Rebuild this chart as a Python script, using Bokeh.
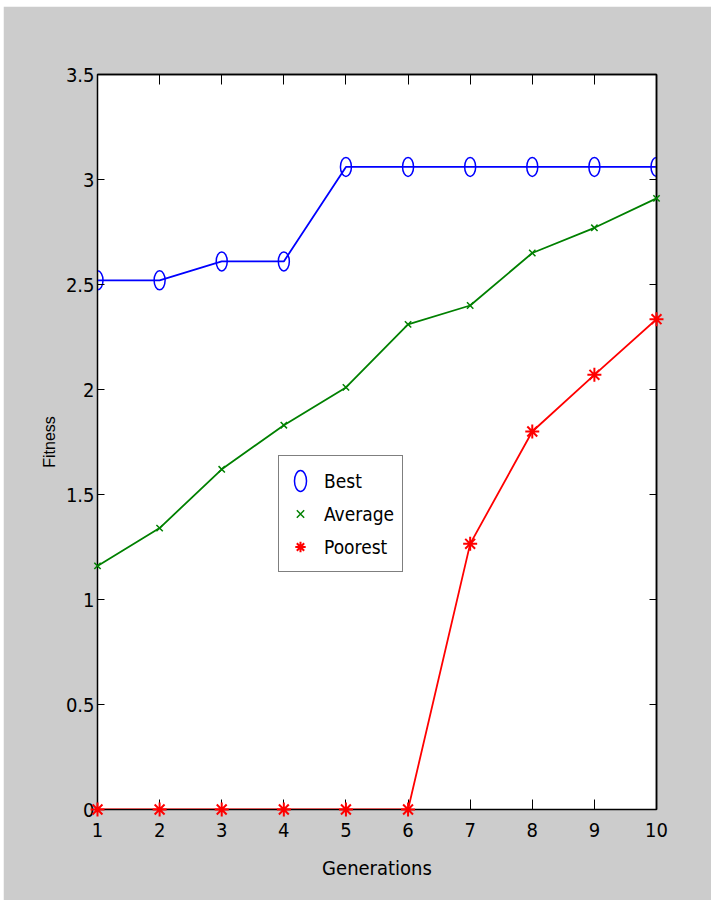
from bokeh.plotting import figure
from bokeh.models import LinearAxis, FixedTicker, Legend, LegendItem, Spacer
from bokeh.layouts import column, row
from bokeh.embed import file_html
from bokeh.resources import INLINE

generations = [1, 2, 3, 4, 5, 6, 7, 8, 9, 10]
best = [2.52, 2.52, 2.61, 2.61, 3.06, 3.06, 3.06, 3.06, 3.06, 3.06]
average = [1.16, 1.34, 1.62, 1.83, 2.01, 2.31, 2.40, 2.65, 2.77, 2.91]
poorest = [0.0, 0.0, 0.0, 0.0, 0.0, 0.0, 1.265, 1.80, 2.07, 2.335]
x_ticks = [1, 2, 3, 4, 5, 6, 7, 8, 9, 10]
y_ticks = [0, 0.5, 1, 1.5, 2, 2.5, 3, 3.5]

COND = "DejaVu Sans Condensed"
BG = "#cccccc"

p = figure(width=708, height=894, x_range=(1, 10), y_range=(0, 3.5),
           output_backend="svg", toolbar_location=None,
           min_border_left=94, min_border_top=68, min_border_right=55, min_border_bottom=91)
p.background_fill_color = "white"
p.border_fill_color = BG
p.outline_line_color = "black"
p.outline_line_width = 1.5
p.xgrid.visible = False
p.ygrid.visible = False

for ax in p.xaxis:
    ax.ticker = FixedTicker(ticks=x_ticks)
    ax.major_tick_in = 10
    ax.major_tick_out = 0
    ax.minor_tick_in = 0
    ax.minor_tick_out = 0
    ax.major_label_standoff = 13
    ax.major_label_text_font = COND
    ax.major_label_text_font_size = "20px"
    ax.major_label_text_color = "black"
    ax.axis_label = "Generations"
    ax.axis_label_text_font = COND
    ax.axis_label_text_font_size = "20px"
    ax.axis_label_text_font_style = "normal"
    ax.axis_label_text_color = "black"
    ax.axis_label_standoff = 16
    ax.axis_line_color = "black"
    ax.major_tick_line_color = "black"

for ax in p.yaxis:
    ax.ticker = FixedTicker(ticks=y_ticks)
    ax.major_tick_in = 7
    ax.major_tick_out = 0
    ax.minor_tick_in = 0
    ax.minor_tick_out = 0
    ax.major_label_standoff = 3
    ax.major_label_text_font = COND
    ax.major_label_text_font_size = "20px"
    ax.major_label_text_color = "black"
    ax.axis_label = "Fitness"
    ax.axis_label_text_font = "Liberation Sans"
    ax.axis_label_text_font_size = "16px"
    ax.axis_label_text_font_style = "normal"
    ax.axis_label_text_color = "black"
    ax.axis_label_standoff = 5
    ax.axis_line_color = "black"
    ax.major_tick_line_color = "black"

top = LinearAxis(ticker=FixedTicker(ticks=x_ticks), major_tick_in=10, major_tick_out=0,
                 minor_tick_in=0, minor_tick_out=0, major_label_text_color=None,
                 axis_line_width=1.5)
right = LinearAxis(ticker=FixedTicker(ticks=y_ticks), major_tick_in=7, major_tick_out=0,
                   minor_tick_in=0, minor_tick_out=0, major_label_text_color=None,
                   axis_line_width=1.5)
p.add_layout(top, "above")
p.add_layout(right, "right")

# lines
p.line(generations, best, line_color="#0000ff", line_width=1.8)
p.line(generations, average, line_color="#008000", line_width=1.8)
p.line(generations, poorest, line_color="#ff0000", line_width=1.8)

# markers
r_best = p.ellipse(generations, best, width=11, height=19, width_units="screen",
                   height_units="screen", fill_color=None, line_color="#0000ff",
                   line_width=1.5)
r_avg = p.scatter(generations, average, marker="x", size=9, line_color="#008000",
                  line_width=1.5, level="overlay")
r_poor = p.scatter(generations, poorest, marker="asterisk", size=14, line_color="#ff0000",
                   line_width=2, level="overlay")

legend = Legend(items=[LegendItem(label="Best", renderers=[r_best]),
                       LegendItem(label="Average", renderers=[r_avg]),
                       LegendItem(label="Poorest", renderers=[r_poor])],
                location=(181, 237))
legend.label_text_font = COND
legend.label_text_font_size = "19px"
legend.label_text_color = "black"
legend.glyph_width = 26
legend.glyph_height = 33
legend.label_height = 33
legend.label_standoff = 11
legend.spacing = 0
legend.padding = 8
legend.margin = 0
legend.border_line_color = "black"
legend.border_line_width = 1.5
legend.background_fill_color = "white"
legend.background_fill_alpha = 1.0
p.add_layout(legend, "center")

page = column(Spacer(height=6, width=711), row(Spacer(width=3, height=894), p))

open("out.html", "w").write(file_html(page, INLINE))
